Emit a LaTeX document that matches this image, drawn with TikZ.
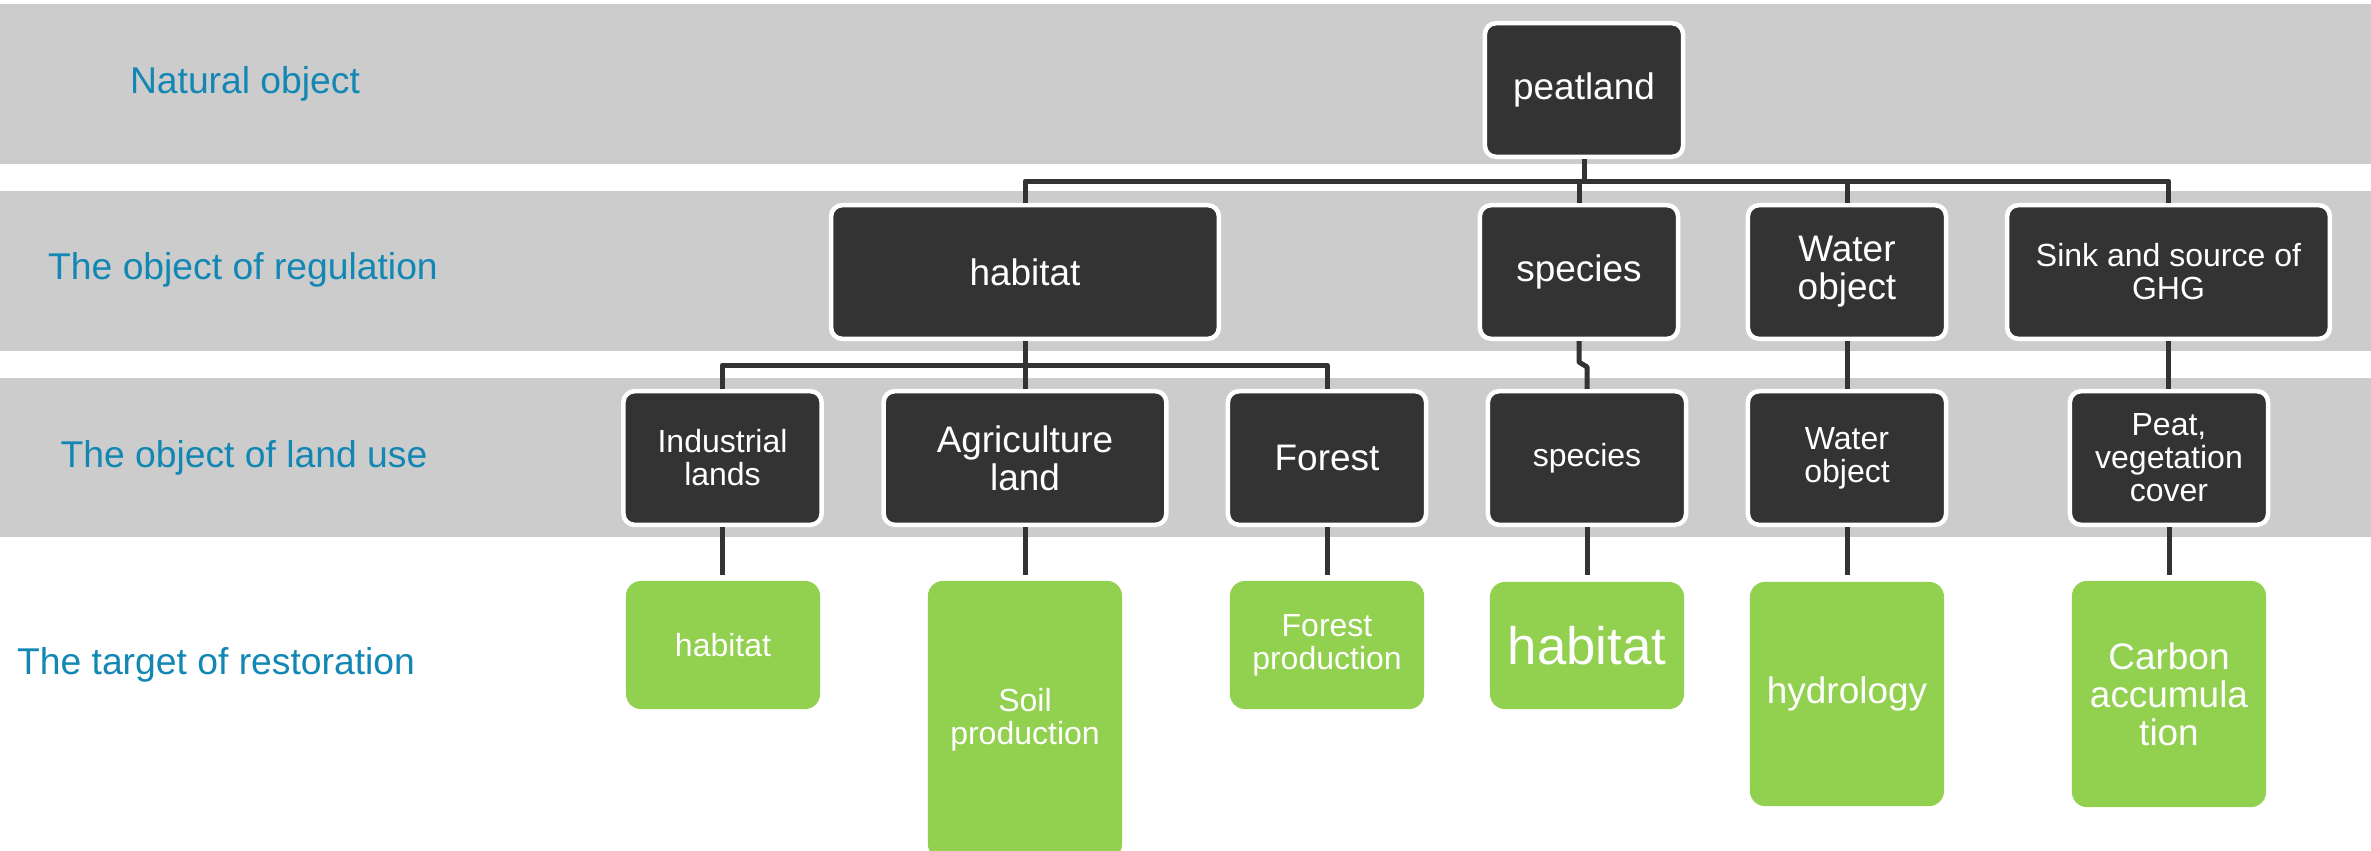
\documentclass[tikz,border=0pt]{standalone}
\usepackage{fontspec}
\setmainfont{Liberation Sans}

\definecolor{bandgray}{HTML}{CCCCCC}
\definecolor{darkbox}{HTML}{333333}
\definecolor{leaf}{HTML}{92D050}
\definecolor{rowblue}{RGB}{18,135,180}

\newcommand{\txtA}{\fontsize{10.5}{10.8}\selectfont}
\newcommand{\txtB}{\fontsize{9.1}{9.4}\selectfont}
\newcommand{\txtC}{\fontsize{15}{15}\selectfont}

\begin{document}
\begin{tikzpicture}[x=0.01cm,y=-0.01cm]
	\tikzset{
		band/.style={fill=bandgray},
		rowlabel/.style={text=rowblue,font=\fontsize{10.6}{12}\selectfont},
		dbox/.style={rectangle,rounded corners=0.11cm,fill=darkbox,draw=white,line width=0.045cm,
			text=white,align=center,inner sep=0pt,minimum width=1.98cm,minimum height=1.335cm},
		gbox/.style={rectangle,rounded corners=0.15cm,fill=leaf,text=white,align=center,
			inner sep=0pt,outer sep=0pt,minimum width=1.94cm},
		conn/.style={draw=darkbox,line width=0.05cm,line join=round},
	}
	\useasboundingbox (0,0) rectangle (2371,851);
	\clip (0,0) rectangle (2371,851);
	
	\foreach \ya/\yb in {4/164,191/351,378/537}
	\fill[band] (0,\ya) rectangle (2371,\yb);
	
	\foreach \x/\y/\t in {245/84/Natural object,243/270/The object of regulation,
		244/458/The object of land use,216/665/The target of restoration}
	\node[rowlabel] (row\y) at (\x,\y) {\t};
	
	% natural object
	\node[dbox,font=\txtA] (peat) at (1584,90) {peatland};
	
	% regulation
	\node[dbox,font=\txtA,minimum width=3.875cm] (hab) at (1025,272) {habitat};
	\node[dbox,font=\txtA] (spec) at (1579,272) {species};
	\node[dbox,font=\txtA] (wat) at (1847,272) {Water\\object};
	\node[dbox,font=\txtB,minimum width=3.225cm] (sink) at (2168.5,272) {Sink and source of\\GHG};
	
	% land use
	\node[dbox,font=\txtB] (ind) at (722.5,458) {Industrial\\lands};
	\node[dbox,font=\txtA,minimum width=2.825cm] (agr) at (1025,458) {Agriculture\\land};
	\node[dbox,font=\txtA] (forest) at (1327,458) {Forest};
	\node[dbox,font=\txtB] (spec2) at (1587,458) {species};
	\node[dbox,font=\txtB] (wat2) at (1847,458) {Water\\object};
	\node[dbox,font=\txtB] (cover) at (2169,458) {Peat,\\vegetation\\cover};
	
	% restoration
	\node[gbox,font=\txtB,minimum height=1.28cm] (tind) at (723,645) {habitat};
	\node[gbox,font=\txtB,minimum height=2.78cm] (tagr) at (1025,720) {Soil\\production};
	\node[gbox,font=\txtB,minimum height=1.28cm] (tfor) at (1327,645) {Forest\\production};
	\node[gbox,font=\txtC,minimum height=1.27cm] (tspec) at (1587,645.5) {habitat};
	\node[gbox,font=\txtA,minimum height=2.24cm] (twat) at (1847,694) {hydrology};
	\node[gbox,font=\txtA,minimum height=2.26cm] (tcov) at (2169,694) {Carbon\\accumula\\tion};
	
	\coordinate (bus1) at (0,181);
	\coordinate (bus2) at (0,365);
	\coordinate (gtop) at (0,575);
	
	\draw[conn] (peat.south) -- (peat.south |- bus1);
	\draw[conn] (hab.north) -- (hab.north |- bus1) -- (sink.north |- bus1) -- (sink.north);
	\draw[conn] (spec.north) -- (spec.north |- bus1);
	\draw[conn] (wat.north) -- (wat.north |- bus1);
	
	\draw[conn] (hab.south) -- (hab.south |- bus2);
	\draw[conn] (ind.north) -- (ind.north |- bus2) -- (forest.north |- bus2) -- (forest.north);
	\draw[conn] (agr.north) -- (agr.north |- bus2);
	\draw[conn] (spec.south) -- ([yshift=-0.21cm]spec.south) -- ([yshift=0.22cm]spec2.north) -- (spec2.north);
	\draw[conn] (wat.south) -- (wat2.north);
	\draw[conn] (sink.south) -- (sink.south |- cover.north);
	
	\foreach \a in {ind,agr,forest,spec2,wat2,cover}
	\draw[conn] (\a.south) -- (\a.south |- gtop);
	
\end{tikzpicture}
\end{document}
